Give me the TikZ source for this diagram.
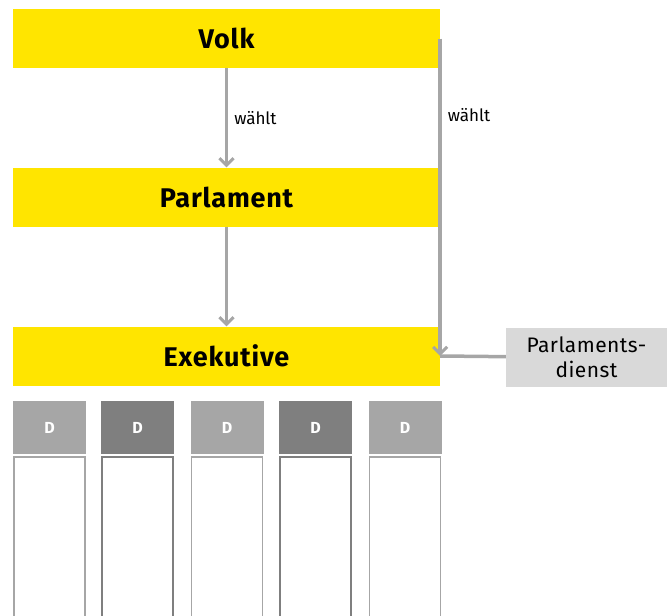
\documentclass[tikz,border=0pt]{standalone}
\usepackage{fontspec}
\setmainfont{Fira Sans}
\usetikzlibrary{arrows.meta}

\definecolor{gelb}{HTML}{FFE500}
\definecolor{hellgrau}{HTML}{A6A6A6}
\definecolor{dunkelgrau}{HTML}{7F7F7F}
\definecolor{dienstgrau}{HTML}{D9D9D9}

\begin{document}
\begin{tikzpicture}[x=1pt,y=-1pt,
        ebene/.style={fill=gelb, minimum width=427pt, minimum height=59pt, inner sep=0pt, font=\fontsize{27}{30}\selectfont\bfseries\addfontfeatures{LetterSpace=3}},
        pfeil/.style={draw=hellgrau, line width=3.5pt, -{Straight Barb[length=7pt,width=14pt,line width=3pt]}},
        linie/.style={draw=hellgrau, line width=3.5pt},
        marke/.style={inner sep=6pt, font=\fontsize{17}{19}\selectfont},
        kopf/.style={minimum width=73pt, minimum height=53pt, inner sep=0pt, text=white, font=\fontsize{16}{18}\selectfont\bfseries},
        spalte/.style={fill=white, line width=1.5pt, minimum width=71pt, minimum height=170pt, inner sep=0pt}]
        \useasboundingbox (0,0) rectangle (667,616);
        \node[ebene] (volk) at (226.5,38.5) {Volk};
        \node[ebene] (parlament) at (226.5,197) {Parlament};
        \node[ebene] (exekutive) at (226.5,356) {Exekutive};
        \node[fill=dienstgrau, minimum width=161pt, minimum height=59pt, align=center, inner sep=0pt,
            font=\fontsize{21}{25}\selectfont\addfontfeatures{LetterSpace=2}] (dienst) at (586.5,357.5) {Parlaments-\\dienst};

        \draw[pfeil] (volk) -- (parlament) node [midway, right, marke] {wählt};
        \draw[pfeil] (parlament) -- (exekutive);
        \draw[pfeil] (volk.east) -- (exekutive.east) node [pos=0.24, right, marke] {wählt};
        \draw[linie] (exekutive.east) -- (dienst);

        \foreach \x/\farbe [count=\i] in {49.5/hellgrau,137.5/dunkelgrau,227/hellgrau,315.5/dunkelgrau,405/hellgrau} {
            \node[kopf, fill=\farbe] (d\i) at (\x,427.5) {D};
            \node[spalte, draw=\farbe, below=2pt] (s\i) at (d\i.south) {};
        }
    \end{tikzpicture}
\end{document}
